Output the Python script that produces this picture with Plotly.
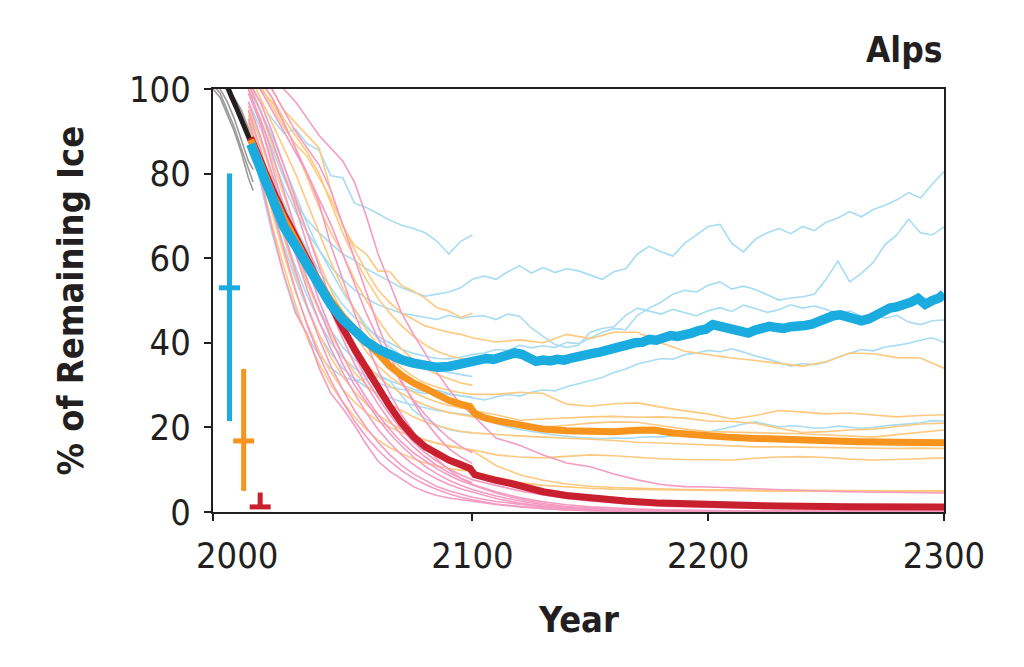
import plotly.graph_objects as go

# ---------------- data ----------------
early_years = [2005, 2010, 2015, 2020, 2025, 2030, 2035, 2040, 2045, 2050,
               2055, 2060, 2065, 2070, 2075, 2080, 2085, 2090, 2095, 2100]
late5_years = [2105, 2110, 2115, 2120, 2125, 2130, 2135, 2140, 2145, 2150,
               2155, 2160, 2165, 2170, 2175, 2180, 2185, 2190, 2195, 2200,
               2205, 2210, 2215, 2220, 2225, 2230, 2235, 2240, 2245, 2250,
               2255, 2260, 2265, 2270, 2275, 2280, 2285, 2290, 2295, 2300]
late10_years = [2110, 2120, 2130, 2140, 2150, 2160, 2170, 2180, 2190, 2200,
                2210, 2220, 2230, 2240, 2250, 2260, 2270, 2280, 2290, 2300]

# historical (grey members + black mean)
hist_years = [1990, 1993, 1996, 1999, 2002, 2005, 2007]
hist_g1 = [101, 99, 95, 91, 86, 81, 78]
hist_g2 = [103, 100, 97, 93, 88, 83, 81]
hist_g3 = [105, 102, 99.5, 96, 92, 88, 85]
hist_g4 = [100, 98, 94, 90, 85, 79, 76]
hist_g5 = [106, 103, 100.5, 98, 95, 91, 88]
black_years = [1993, 1996, 1998, 2000, 2002, 2004, 2006]
black_vals = [105, 100.5, 98, 95.5, 93, 90, 87.5]

# RCP2.6 members (light blue)
b1_early = [101, 97, 93, 89.5, 90.5, 87, 85.5, 79.5, 79, 73, 72, 70.5, 69, 67.8, 67, 66, 64, 61, 64, 65.5]
b2_early = [99, 93, 86, 79, 73, 69, 66, 63.5, 61, 59.5, 57.5, 56, 54.5, 53, 52, 51, 51.5, 52, 53, 55]
b2_late = [55.8, 55, 56.8, 58.2, 56.5, 57.8, 56.6, 57.5, 57, 56, 55, 56.8, 57.5, 61, 62.8, 61.5, 60.5, 63.5, 65.5, 67.5,
           68, 63.5, 61.5, 64.5, 66, 67, 65.8, 67.5, 66.5, 68.5, 69.5, 71, 69.8, 71.5, 72.5, 73.8, 75.5, 74.2, 77.5, 80.5]
b3_early = [95, 88, 80, 73, 67, 62, 57, 53, 49, 46, 43.5, 41.5, 40, 38.5, 37.5, 36.8, 36.3, 36.2, 36.6, 37.2]
b3_late = [37.6, 38.4, 38.2, 39.4, 38.8, 39.3, 38.9, 40.1, 39.8, 41.2, 42.5, 43.4, 43.1, 46.5, 48.2, 49.6, 51.5, 52.4, 52, 53.6,
           54.4, 52.7, 53.4, 52.6, 51.3, 50.1, 50.6, 50.9, 51.5, 55, 59.3, 54.4, 56.4, 59, 63.2, 65.5, 69.2, 66, 65.5, 67.4]
b4_early = [97, 91, 84, 77, 71, 66, 62, 58, 55, 52.5, 50.5, 49, 48, 47, 46.5, 46, 45.5, 46.5, 45.8, 46.2]
b4_late = [46.4, 45.5, 46.8, 46.3, 43.5, 41.5, 39.6, 38.9, 39.4, 42.5, 43.4, 43.8, 46.5, 48.2, 47.5, 46.8, 47.9, 47.2, 46.4, 47.6,
           48.3, 47.4, 48.9, 48.1, 47.2, 47.8, 49, 48.2, 48.7, 47.9, 46.8, 47.5, 46.4, 46.9, 45.8, 46.5, 44.9, 44.3, 45.2, 45.4]
b5_early = [92, 84, 75, 66, 58, 51, 45, 40, 36.5, 34, 32, 30.5, 29.5, 29, 28.5, 28, 28.3, 27.8, 27.5, 27]
b5_late = [26.5, 27.2, 27.8, 27.4, 28.3, 28.9, 28.6, 29.6, 30.3, 31, 31.8, 33, 33.8, 35, 35.6, 36.3, 36.1, 37.2, 37.6, 38.2,
           37.9, 38.6, 37.8, 36.9, 36.2, 35.4, 34.5, 35.1, 34.8, 35.4, 36.6, 37.5, 38.4, 38.1, 39, 39.4, 39.9, 40.6, 41.2, 40.1]
b6_early = [90, 82, 72, 63, 55, 48, 42, 37.5, 34, 31.5, 29.5, 28, 27, 26, 25.3, 24.6, 24, 23.6, 23.2, 22.8]
b6_late = [21.8, 20.9, 20.1, 19.5, 19, 18.6, 18.2, 17.9, 17.6, 17.5, 17.3, 17.5, 17.4, 17.6, 17.8, 17.7, 18.1, 18.4, 18.6, 18.9,
           19.5, 20.2, 20.8, 21.3, 20.7, 20.1, 20.4, 20.2, 19.8, 19.9, 20.3, 20.1, 19.8, 20, 20.4, 20.6, 20.9, 21.1, 21.6, 21.5]
b7_early = [88, 78, 66, 56, 48, 41.5, 37, 34, 32, 31, 31.5, 32, 31, 27.5, 24, 22, 20.5, 19.5, 19, 18.7]
b8_early = [93, 86, 77, 69, 61, 54, 48, 43, 39, 36, 34, 32.5, 31, 30, 29, 28.5, 28.8, 28, 27.5, 27.2]
b9_early = [100, 95, 89, 82, 75, 68, 62, 57, 52, 48, 44, 41, 39, 37, 35.5, 34.5, 33.5, 33, 32.5, 32]

# RCP4.5 members (light orange)
o1_early = [106, 101, 96, 91, 87, 84, 79, 74, 68, 62, 57, 52.5, 49.5, 47, 45.5, 44, 43.2, 42.5, 42, 41.2]
o1_late = [40.2, 40.7, 40, 42, 41, 42.5, 42.5, 40, 38, 37.2, 36.4, 35.8, 35.2, 34.5, 35.5, 37.6, 37.4, 36.5, 36.4, 34]
o2_early = [104, 98, 92, 86, 80, 73, 66, 59, 53, 48, 43, 39.5, 36.5, 34, 32, 30.5, 29.5, 28.8, 28.2, 27.8]
o2_late = [27.8, 28.3, 28, 25.5, 25, 25.6, 25.8, 24.8, 23.9, 23.2, 22, 22.8, 24, 23.6, 23.2, 23.4, 22.9, 22.5, 22.8, 23]
o3_early = [102, 95, 87, 80, 73, 66, 59, 52.5, 47, 42, 38, 34.5, 32, 30, 28.3, 27, 26, 25.2, 24.6, 24]
o3_late = [23, 21.7, 22, 22.3, 22.5, 22.6, 22.4, 22.5, 22.2, 21.5, 21.4, 21, 19.8, 18.8, 19, 19.4, 19.6, 20.2, 20.8, 21]
o4_early = [100, 92, 83, 75, 67, 60, 53.5, 47.5, 42.5, 38.5, 35, 32, 29.8, 28, 26.5, 25.3, 24.3, 23.5, 23, 22.5]
o4_late = [21.6, 20.8, 20, 20.5, 21, 21.3, 21.2, 20.4, 19.6, 19, 18.9, 18.7, 18.6, 18.5, 18.2, 17.9, 17.7, 18.3, 18.9, 19.4]
o5_early = [96, 88, 79, 70, 62, 54, 47.5, 42, 37, 33, 30, 27.5, 25.5, 24, 22.5, 21.3, 20.4, 19.7, 19.1, 18.7]
o5_late = [18.3, 18, 17.7, 17.5, 17.2, 16.9, 16.5, 16.3, 16.1, 15.9, 15.6, 15.4, 15.4, 15.3, 15.2, 15.1, 15, 15, 15.1, 15]
o6_early = [94, 85, 75, 65, 56, 48.5, 42, 36.5, 32, 28.5, 25.5, 23, 21, 19.5, 18.2, 17, 16.2, 15.5, 15, 14.7]
o6_late = [13.5, 13, 12.8, 13.1, 13.5, 13.3, 12.9, 12.6, 12.4, 12.3, 12.3, 12.7, 13, 13.1, 12.9, 12.5, 12.3, 12.4, 12.6, 12.8]
o7_early = [92, 82, 71, 61, 52, 44.5, 38, 33, 29, 26, 23.5, 21.5, 20, 18.8, 17.8, 17, 16.3, 15.7, 15.2, 14.5]
o7_late = [11, 8.8, 7.5, 6.6, 6.1, 5.8, 5.6, 5.4, 5.3, 5.25, 5.2, 5.15, 5.1, 5.1, 5.05, 5, 5, 5, 5, 5]
o8_early = [107, 104, 100, 95, 92, 89, 86, 76, 67.5, 63, 61, 57, 56.8, 53.5, 52.2, 50.5, 48.3, 47.5, 46, 47]
o9_early = [103, 100, 97, 92, 86, 79, 72, 66, 61, 55, 50, 45.5, 41.5, 38.5, 36, 34, 32.5, 31.5, 30.5, 30]
o10_early = [90, 80, 68, 58, 49, 41, 35, 30, 26, 22.5, 19.5, 17, 15.2, 13.8, 12.6, 11.6, 10.9, 10.3, 9.9, 9.6]
o10_late = [8.2, 7, 6.3, 5.9, 5.6, 5.4, 5.3, 5.2, 5.1, 5.05, 5, 4.95, 4.9, 4.9, 4.85, 4.8, 4.8, 4.8, 4.8, 4.8]
o11_early = [105, 102, 98, 93, 89, 85, 80, 73, 66, 60, 55, 50.5, 47, 44, 41.5, 39.5, 38, 37, 36.3, 35.8]

# RCP8.5 members (pink)
p1_early = [108, 106, 103, 100, 97, 93, 89, 86, 83, 78, 70, 61, 54, 47, 42, 37.5, 33, 29, 25.5, 23]
p1_late = [17.5, 15.8, 13.5, 11.6, 10.7, 9, 7.6, 6.5, 6, 5.9, 5.7, 5.4, 5.2, 5, 4.9, 4.8, 4.7, 4.6, 4.5, 4.5]
p2_early = [107, 104, 100, 95, 90, 86, 82, 76, 68, 60, 52, 44, 37, 31, 26, 21.5, 18, 15, 13, 11.5]
p3_early = [104, 100, 95, 90, 85, 80, 73, 63, 55, 47, 40, 33.5, 28, 23, 19, 15.5, 12.5, 10, 8, 6.5]
p3_late = [4.8, 3.4, 2.4, 1.7, 1.2, 0.9, 0.7, 0.5, 0.4, 0.35, 0.3, 0.3, 0.3, 0.3, 0.3, 0.3, 0.3, 0.3, 0.3, 0.3]
p4_early = [102, 97, 90, 82, 74, 66, 58, 50, 43, 37, 31.5, 27, 23, 19.5, 16.5, 14, 12, 10.2, 8.8, 7.6]
p4_late = [6.3, 5, 4, 3.2, 2.6, 2.1, 1.7, 1.4, 1.2, 1, 0.95, 0.9, 0.9, 0.85, 0.85, 0.8, 0.8, 0.8, 0.8, 0.8]
p5_early = [100, 93, 85, 76, 67, 58, 50, 43, 37, 31.5, 27, 23, 19.5, 16.5, 14, 12, 10.2, 8.7, 7.4, 6.4]
p5_late = [4.5, 3, 2, 1.3, 0.9, 0.6, 0.4, 0.3, 0.25, 0.2, 0.15, 0.15, 0.15, 0.15, 0.15, 0.15, 0.15, 0.15, 0.15, 0.15]
p6_early = [97, 89, 80, 70, 61, 52.5, 45, 38.5, 33, 28, 23.5, 19.5, 16.3, 13.5, 11.2, 9.3, 7.8, 6.5, 5.5, 4.7]
p6_late = [3.2, 2.1, 1.4, 0.9, 0.6, 0.4, 0.3, 0.2, 0.15, 0.1, 0.1, 0.1, 0.1, 0.1, 0.1, 0.1, 0.1, 0.1, 0.1, 0.1]
p7_early = [95, 86, 76, 66, 57, 48.5, 41, 34.5, 29, 24, 20, 16.5, 13.5, 11, 9, 7.4, 6, 5, 4.2, 3.5]
p7_late = [2.5, 1.8, 1.2, 0.8, 0.5, 0.35, 0.25, 0.2, 0.15, 0.12, 0.1, 0.1, 0.1, 0.1, 0.1, 0.1, 0.1, 0.1, 0.1, 0.1]
p8_early = [93, 83, 72, 62, 52.5, 44, 37, 31, 26, 21.5, 17.8, 14.6, 12, 9.8, 8, 6.5, 5.3, 4.3, 3.5, 2.9]
p8_late = [1.9, 1.3, 0.8, 0.5, 0.3, 0.2, 0.15, 0.1, 0.1, 0.1, 0.1, 0.1, 0.1, 0.1, 0.1, 0.1, 0.1, 0.1, 0.1, 0.1]
p9_early = [90, 79, 67, 56, 47, 42, 34, 28, 24.5, 20.5, 16, 12, 9.6, 7.8, 6, 4.8, 3.9, 3.3, 2.9, 2.6]
p9_late = [1.8, 1.2, 0.8, 0.5, 0.3, 0.2, 0.15, 0.1, 0.1, 0.1, 0.1, 0.1, 0.1, 0.1, 0.1, 0.1, 0.1, 0.1, 0.1, 0.1]
p10_early = [99, 92, 82, 72, 63, 55, 48, 41, 35, 30, 26, 22, 18.5, 15.6, 13, 10.8, 9, 7.5, 6.3, 5.3]
p10_late = [3.8, 2.6, 1.7, 1.1, 0.7, 0.5, 0.35, 0.25, 0.2, 0.15, 0.15, 0.15, 0.15, 0.15, 0.15, 0.15, 0.15, 0.15, 0.15, 0.15]
p11_early = [105, 102, 98, 92, 86, 80, 74, 68, 61, 54, 47, 41, 35.5, 30.5, 26.5, 23, 20, 17.5, 15.5, 14]
p12_early = [101, 95, 88, 80, 72, 63, 55, 47.5, 41, 35, 30, 25.5, 21.5, 18.2, 15.4, 13, 11, 9.3, 8, 6.9]

# ensemble medians
blue_years = [2006, 2010, 2015, 2020, 2025, 2030, 2035, 2040, 2045, 2050, 2055, 2060, 2065, 2070, 2075, 2080, 2085,
              2090, 2094, 2097, 2100, 2103, 2106, 2109, 2112, 2115, 2118, 2121, 2124, 2127, 2130, 2133, 2136, 2139,
              2142, 2145, 2148, 2151, 2154, 2157, 2160, 2163, 2166, 2169, 2172, 2175, 2178, 2181, 2184, 2187, 2190,
              2193, 2196, 2199, 2202, 2205, 2208, 2211, 2214, 2217, 2220, 2223, 2226, 2229, 2232, 2235, 2238, 2241,
              2244, 2247, 2250, 2253, 2256, 2259, 2262, 2265, 2268, 2271, 2274, 2277, 2280, 2283, 2286, 2289, 2292,
              2295, 2298, 2300]
blue_vals = [87, 81, 74, 67.5, 63, 58, 53, 49, 45.5, 42.5, 40.3, 38.5, 37, 36, 35.2, 34.5, 34.2,
             34.4, 34.9, 35.4, 35.8, 35.6, 36.3, 36.1, 36.8, 37.2, 37.6, 37.3, 36.4, 35.6, 35.9, 35.7, 36.1, 35.9,
             36.4, 36.6, 37.2, 37.5, 37.8, 38.3, 38.6, 39.2, 39.4, 40, 40.1, 40.8, 40.6, 41.3, 41.7, 41.5, 42.2,
             42.3, 42.9, 43.2, 44.3, 43.8, 43.5, 43, 42.6, 42.3, 43, 43.4, 43.9, 43.6, 43.4, 43.8, 43.7, 44.1,
             44.4, 45.2, 46, 46.4, 46.6, 46, 45.8, 45.2, 45.6, 46.6, 47.4, 48.2, 48.5, 48.9, 49.6, 50.5, 49.1,
             50, 50.6, 51.6]
orange_years = [2006, 2010, 2015, 2020, 2025, 2030, 2035, 2040, 2045, 2050, 2055, 2060, 2065, 2070, 2075, 2080, 2085,
                2090, 2095, 2099, 2101, 2105, 2110, 2116, 2123, 2130, 2140, 2151, 2160, 2170, 2177, 2185, 2195, 2208,
                2220, 2236, 2250, 2264, 2280, 2300]
orange_vals = [88, 82, 75.5, 69.5, 64, 59, 54.5, 50, 46.3, 43, 40.2, 37.5, 34.5, 32.3, 30.5, 29.2, 27.8,
               26.4, 25.5, 24.9, 23.3, 22.3, 21.6, 21, 20.1, 19.6, 19.2, 18.9, 19, 19.3, 19.4, 18.7, 18.2, 17.7,
               17.4, 17, 16.8, 16.6, 16.5, 16.4]
red_years = [2006, 2010, 2015, 2020, 2025, 2030, 2035, 2040, 2045, 2050, 2055, 2060, 2065, 2070, 2075, 2080, 2085,
             2090, 2095, 2099, 2101, 2105, 2110, 2116, 2123, 2130, 2140, 2151, 2165, 2180, 2195, 2210, 2230, 2260, 2300]
red_vals = [88.5, 83, 76.5, 70.5, 65, 59.5, 54, 48.5, 43.5, 38.5, 33.8, 29.2, 25, 21, 17.8, 15.4, 13.7,
            12.3, 11.2, 10.3, 8.8, 8.1, 7.5, 6.8, 5.7, 4.8, 3.9, 3.2, 2.6, 2.1, 1.8, 1.6, 1.4, 1.25, 1.2]

# uncertainty bars (per scenario)
bar_years = [1997, 2003, 2010]
bar_low = [21.5, 5, 1.2]
bar_mid = [53, 16.8, 1.2]
bar_high = [80, 33.8, 4.6]

# ---------------- style ----------------
C_BLUE_T, C_ORANGE_T, C_PINK_T, C_GREY_T = "#a6dcf4", "#fec97e", "#f59bc2", "#9b9b9b"
C_BLUE, C_ORANGE, C_RED, C_BLACK = "#1aabdf", "#f7941e", "#c9202f", "#231f20"
bar_colors = [C_BLUE, C_ORANGE, C_RED]
NARROW = "DejaVu Sans Condensed, Liberation Sans Narrow, sans-serif"
TXT = "#231f20"

fig = go.Figure()


def add_line(x, y, color, width):
    fig.add_trace(go.Scatter(x=x, y=y, mode="lines", line=dict(color=color, width=width),
                             hoverinfo="skip", showlegend=False))


for g in [hist_g1, hist_g2, hist_g3, hist_g4, hist_g5]:
    add_line(hist_years, g, C_GREY_T, 1.6)

blue_members = [(b1_early, None), (b2_early, b2_late), (b3_early, b3_late), (b4_early, b4_late),
                (b5_early, b5_late), (b6_early, b6_late), (b7_early, None), (b8_early, None), (b9_early, None)]
orange_members = [(o1_early, o1_late), (o2_early, o2_late), (o3_early, o3_late), (o4_early, o4_late),
                  (o5_early, o5_late), (o6_early, o6_late), (o7_early, o7_late), (o8_early, None),
                  (o9_early, None), (o10_early, o10_late), (o11_early, None)]
pink_members = [(p1_early, p1_late), (p2_early, None), (p3_early, p3_late), (p4_early, p4_late),
                (p5_early, p5_late), (p6_early, p6_late), (p7_early, p7_late), (p8_early, p8_late),
                (p9_early, p9_late), (p10_early, p10_late), (p11_early, None), (p12_early, None)]

for e, l in blue_members:
    xs = early_years + (late5_years if l else [])
    add_line(xs, e + (l or []), C_BLUE_T, 1.6)
for e, l in orange_members:
    xs = early_years + (late10_years if l else [])
    add_line(xs, e + (l or []), C_ORANGE_T, 1.6)
for e, l in pink_members:
    xs = early_years + (late10_years if l else [])
    add_line(xs, e + (l or []), C_PINK_T, 1.6)

add_line(black_years, black_vals, C_BLACK, 5)
add_line(red_years, red_vals, C_RED, 7)
add_line(orange_years, orange_vals, C_ORANGE, 7)
add_line(blue_years, blue_vals, C_BLUE, 9.5)

for xb, lo, mid, hi, col in zip(bar_years, bar_low, bar_mid, bar_high, bar_colors):
    add_line([xb, xb], [lo, hi], col, 5)
    fig.add_trace(go.Scatter(x=[xb], y=[mid], mode="markers", hoverinfo="skip", showlegend=False,
                             marker=dict(symbol="line-ew", size=15, line=dict(color=col, width=5))))

axis_common = dict(showline=True, linewidth=2, linecolor=TXT, mirror=True, showgrid=False, zeroline=False,
                   ticks="outside", ticklen=7, tickwidth=2, tickcolor=TXT,
                   tickfont=dict(family=NARROW, size=36, color=TXT))

fig.update_layout(
    width=1024, height=667,
    margin=dict(l=213, r=80, t=89, b=155),
    paper_bgcolor="white", plot_bgcolor="white",
    xaxis=dict(range=[1990, 2300], tickvals=[1990, 2100, 2200, 2300],
               ticktext=["", "2100", "2200", "2300"], ticklabelstandoff=4, **axis_common),
    yaxis=dict(range=[0, 100], tickvals=[0, 20, 40, 60, 80, 100], ticklabelstandoff=6, **axis_common),
    annotations=[
        dict(x=2000, y=0, xref="x", yref="paper", yanchor="top", xanchor="center", yshift=-21,
             text="2000", showarrow=False, font=dict(family=NARROW, size=36, color=TXT)),
        dict(x=-0.1956, y=0.5, xref="paper", yref="paper", xanchor="center", yanchor="middle",
             textangle=-90, showarrow=False,
             text="<b>% of Remaining Ice</b>", font=dict(family=NARROW, size=36, color=TXT)),
        dict(x=0.5, y=-0.255, xref="paper", yref="paper", yanchor="middle", xanchor="center", showarrow=False,
             text="<b>Year</b>", font=dict(family=NARROW, size=36, color=TXT)),
        dict(x=1.0, y=1.092, xref="paper", yref="paper", xanchor="right", yanchor="middle",
             showarrow=False, text="<b>Alps</b>", font=dict(family=NARROW, size=35, color=TXT)),
    ],
)

fig.write_html("out.html", config={"displayModeBar": False},
               post_script="document.body.style.margin='0';document.body.style.overflow='hidden';")
